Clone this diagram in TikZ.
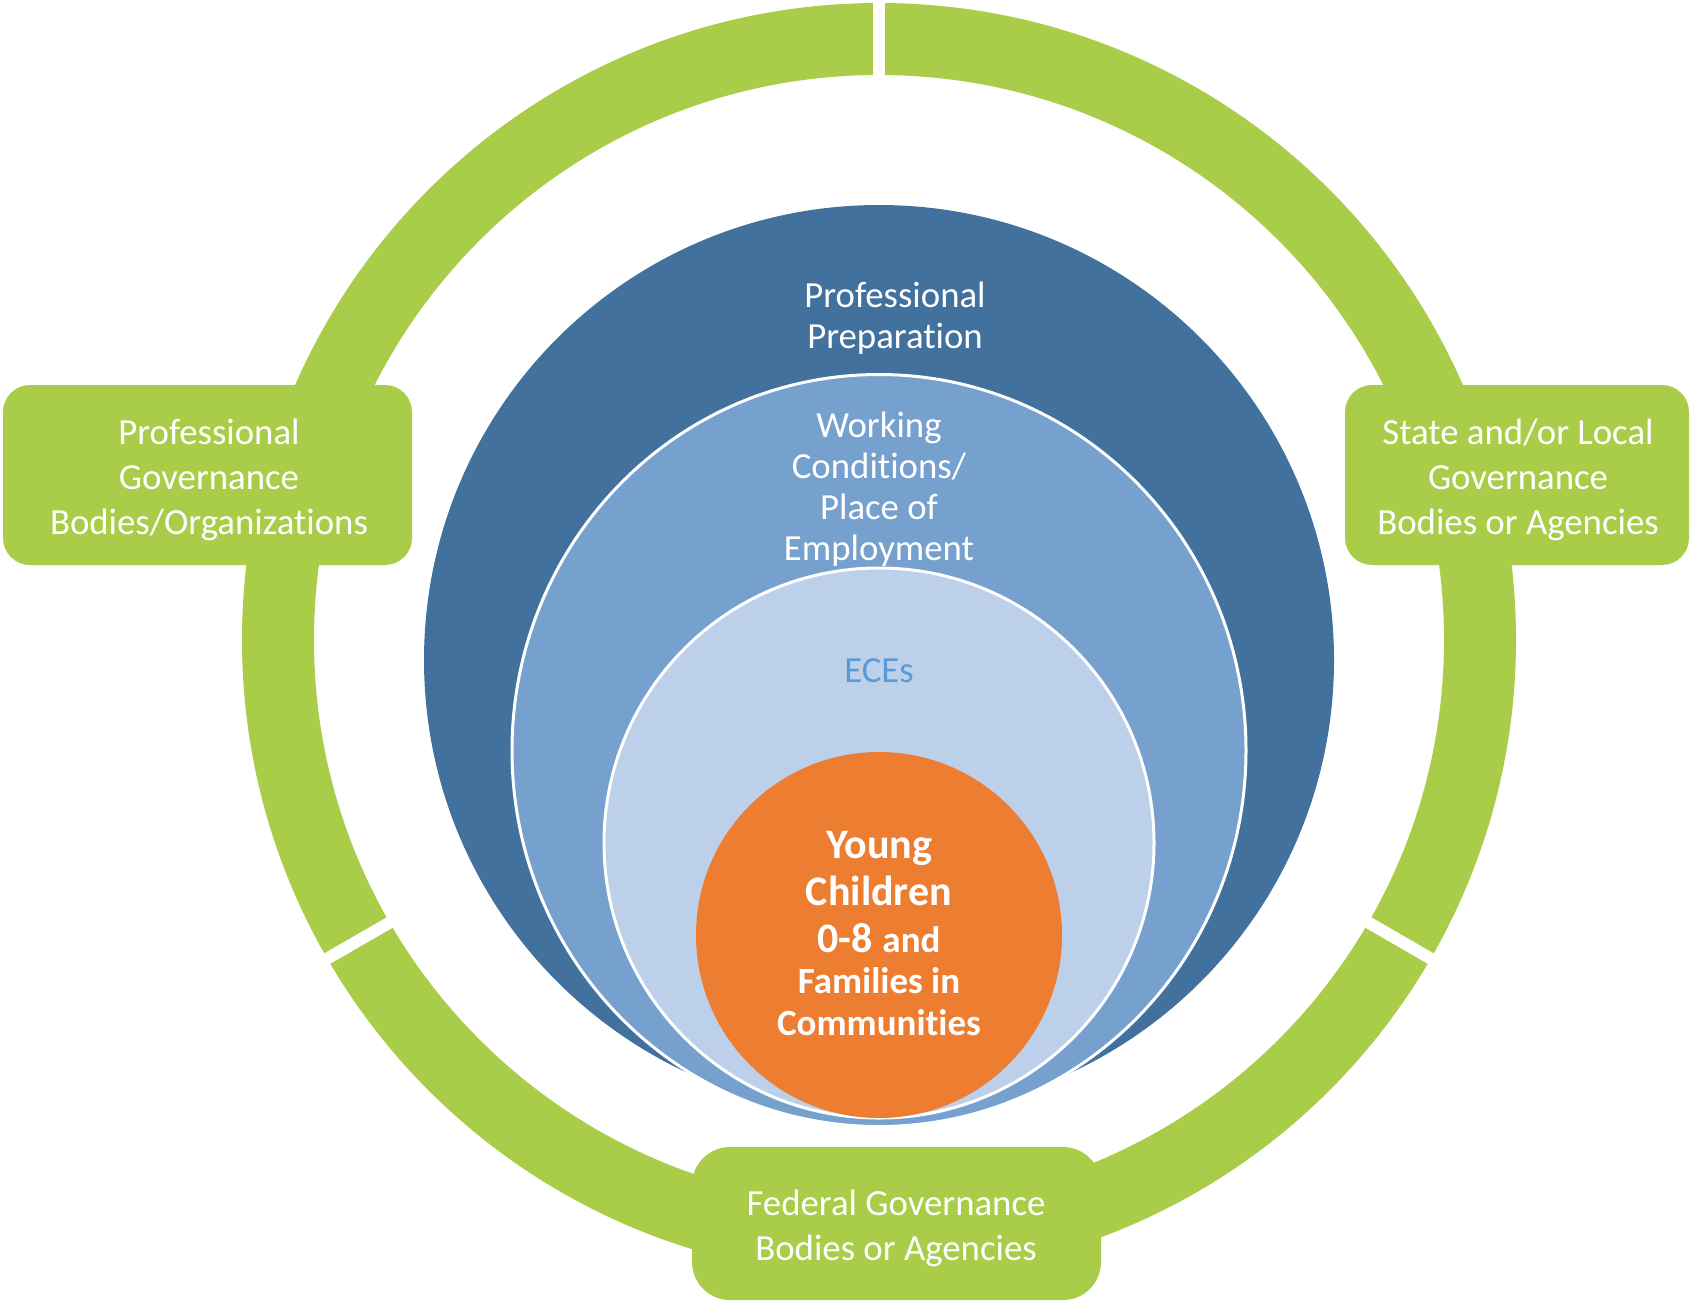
\documentclass[tikz,border=0pt]{standalone}
\usepackage{fontspec}
\setmainfont[Ligatures={NoCommon,NoContextual,NoRare}]{Carlito}
\usetikzlibrary{calc}
\newcommand{\nolig}{\kern0pt{}}
\definecolor{ringgreen}{RGB}{169,205,72}
\definecolor{darkblue}{RGB}{65,113,156}
\definecolor{midblue}{RGB}{118,160,205}
\definecolor{lightblue}{RGB}{189,208,233}
\definecolor{orangec}{RGB}{237,125,49}
\definecolor{ecetext}{RGB}{91,155,213}
\tikzset{
  greenbox/.style={fill=ringgreen, draw=none, rounded corners=27pt},
  boxtext/.style={text=white, align=center, inner sep=0pt, font=\fontsize{36.8}{44.8}\selectfont},
  circtext/.style={text=white, align=center, inner sep=0pt, font=\fontsize{36.8}{41}\selectfont},
  bigbold/.style={text=white, inner sep=0pt, anchor=base, font=\bfseries\fontsize{42}{48}\selectfont},
  smallbold/.style={text=white, inner sep=0pt, anchor=base, font=\bfseries\fontsize{37}{42}\selectfont},
  gapline/.style={draw=white, line width=12pt},
}
\begin{document}
\begin{tikzpicture}[x=1pt,y=-1pt]
\useasboundingbox (0,0) rectangle (1691,1302);
\fill[white] (0,0) rectangle (1691,1302);
\coordinate (c) at (879,640);
% green ring
\draw[ringgreen, line width=72pt] (c) circle[radius=601];
% gaps
\draw[gapline] ($(c)+(270:555)$) -- ($(c)+(270:650)$);
\draw[gapline] ($(c)+(150:555)$) -- ($(c)+(150:650)$);
\draw[gapline] ($(c)+(30:555)$) -- ($(c)+(30:650)$);
% boxes
\path[greenbox] (3,385) rectangle (412,565);
\path[greenbox] (1345,385) rectangle (1689,565);
\path[greenbox, rounded corners=38pt] (692,1147) rectangle (1101,1300);
% circles
\fill[darkblue] (879,660) circle[radius=455];
\filldraw[fill=midblue, draw=white, line width=3pt] (879,750.5) ellipse[x radius=367, y radius=376];
\filldraw[fill=lightblue, draw=white, line width=3pt] (879,843) circle[radius=275];
\fill[orangec] (879,935) circle[radius=183];
% texts
\node[boxtext] (tl) at (209,480) {Professional\\Governance\\Bodies/Organizat\nolig ions};
\node[boxtext] (tr) at (1518,480) {State and/or Local\\Governance\\Bodies or Agencies};
\node[boxtext] (tb) at (896,1228) {Federal Governance\\Bodies or Agencies};
\node[circtext] (pp) at (895,318) {Professional\\Preparat\nolig ion};
\node[circtext] (wc) at (879,489) {Working\\Conditions/\\Place of\\Employment};
\node[circtext, text=ecetext] (ece) at (879,671) {ECEs};
\node[bigbold] (y1) at (879,858) {Young};
\node[bigbold] (y2) at (879,905) {Children};
\node[bigbold] (y3) at (879,952) {0-8 {\fontsize{37}{42}\selectfont and}};
\node[smallbold] (y4) at (879,993) {Families in};
\node[smallbold] (y5) at (879,1035) {Communit\nolig ies};
\end{tikzpicture}
\end{document}
